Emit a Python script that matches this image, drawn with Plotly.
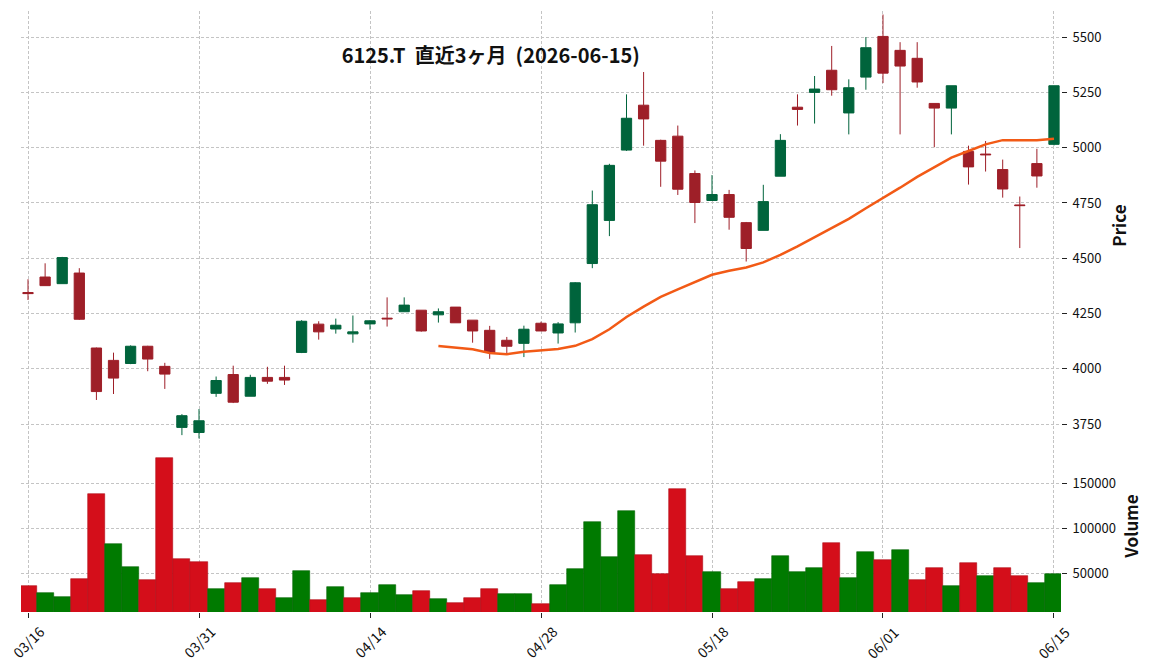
import plotly.graph_objects as go

# ---------------- data ----------------
dates = [
    "2026-03-16", "2026-03-17", "2026-03-18", "2026-03-19", "2026-03-23", "2026-03-24",
    "2026-03-25", "2026-03-26", "2026-03-27", "2026-03-30", "2026-03-31", "2026-04-01",
    "2026-04-02", "2026-04-03", "2026-04-06", "2026-04-07", "2026-04-08", "2026-04-09",
    "2026-04-10", "2026-04-13", "2026-04-14", "2026-04-15", "2026-04-16", "2026-04-17",
    "2026-04-20", "2026-04-21", "2026-04-22", "2026-04-23", "2026-04-24", "2026-04-27",
    "2026-04-28", "2026-04-30", "2026-05-01", "2026-05-07", "2026-05-08", "2026-05-11",
    "2026-05-12", "2026-05-13", "2026-05-14", "2026-05-15", "2026-05-18", "2026-05-19",
    "2026-05-20", "2026-05-21", "2026-05-22", "2026-05-25", "2026-05-26", "2026-05-27",
    "2026-05-28", "2026-05-29", "2026-06-01", "2026-06-02", "2026-06-03", "2026-06-04",
    "2026-06-05", "2026-06-08", "2026-06-09", "2026-06-10", "2026-06-11", "2026-06-12",
    "2026-06-15",
]

opens = [4345, 4415, 4385, 4433, 4094, 4038, 4024, 4102, 4011, 3735,
         3712, 3889, 3974, 3876, 3961, 3961, 4074, 4202, 4180, 4158,
         4203, 4229, 4258, 4265, 4244, 4279, 4220, 4174, 4129, 4115,
         4206, 4162, 4208, 4476, 4671, 4989, 5192, 5033, 5052, 4883,
         4761, 4788, 4661, 4626, 4871, 5183, 5250, 5350, 5157, 5319,
         5503, 5440, 5404, 5200, 5179, 4983, 4971, 4901, 4741, 4928,
         5015]
highs = [4405, 4477, 4506, 4455, 4096, 4073, 4106, 4104, 4027, 3795,
         3818, 3965, 4014, 3973, 4009, 4014, 4220, 4215, 4227, 4241,
         4220, 4323, 4323, 4265, 4273, 4279, 4220, 4194, 4144, 4195,
         4213, 4211, 4392, 4806, 4927, 5241, 5342, 5036, 5100, 4897,
         4876, 4809, 4664, 4832, 5061, 5241, 5324, 5460, 5309, 5500,
         5602, 5477, 5477, 5200, 5280, 5009, 5030, 4946, 4779, 4995,
         5280]
lows = [4311, 4376, 4385, 4221, 3859, 3886, 4021, 3989, 3909, 3700,
        3685, 3873, 3845, 3876, 3932, 3927, 4071, 4132, 4159, 4118,
        4177, 4191, 4258, 4168, 4209, 4208, 4118, 4045, 4065, 4053,
        4171, 4114, 4164, 4455, 4600, 4985, 5009, 4823, 4786, 4659,
        4761, 4629, 4485, 4626, 4871, 5100, 5109, 5235, 5060, 5262,
        5292, 5060, 5271, 5002, 5060, 4833, 4892, 4774, 4546, 4819,
        5010]
closes = [4340, 4376, 4503, 4224, 3897, 3958, 4102, 4044, 3976, 3788,
          3765, 3947, 3849, 3961, 3944, 3949, 4215, 4167, 4197, 4167,
          4217, 4226, 4288, 4171, 4258, 4208, 4171, 4074, 4102, 4179,
          4171, 4203, 4389, 4742, 4920, 5133, 5130, 4939, 4812, 4752,
          4788, 4685, 4544, 4756, 5033, 5173, 5265, 5262, 5271, 5452,
          5337, 5369, 5297, 5179, 5280, 4913, 4968, 4813, 4738, 4872,
          5280]
volumes = [36000, 28000, 23500, 43400, 138300, 82000, 56600, 42300, 178000, 65500,
           62000, 32300, 39000, 44500, 32300, 22400, 52200, 20200, 34500, 22400,
           28000, 36800, 25700, 30100, 21300, 16900, 22400, 32300, 26800, 26800,
           15800, 36800, 54400, 107400, 67700, 119500, 69900, 48900, 143800, 68800,
           51100, 32300, 40000, 43400, 68800, 51100, 55500, 83100, 44500, 73200,
           64300, 75400, 42300, 55500, 35700, 61000, 46700, 55500, 46700, 39000,
           48900]
# 25-day moving average (starts at the 25th session)
ma25 = [None] * 24 + [
    4103, 4096, 4088, 4071, 4066, 4077, 4085, 4090, 4104, 4134,
    4179, 4234, 4281, 4325, 4359, 4391, 4425, 4443, 4458, 4481,
    4515, 4554, 4595, 4634, 4678, 4726, 4771, 4819, 4868, 4911,
    4955, 4985, 5015, 5034, 5034, 5033, 5040]

tick_labels = ["03/16", "03/31", "04/14", "04/28", "05/18", "06/01", "06/15"]
title_text = "6125.T  直近3ヶ月  (2026-06-15)"

# ---------------- styling ----------------
FONT = "Noto Sans CJK JP"
CANDLE_UP = "#00643c"
CANDLE_DN = "#9e1f28"
VOL_UP = "#007a00"
VOL_DN = "#d40e1a"
MA_COLOR = "#f25a16"
GRID = "#c4c4c4"
TXT = "#111111"

x = list(range(len(dates)))
tick_pos = [dates.index("2026-" + t.replace("/", "-")) for t in tick_labels]

vol_colors = []
for i in range(len(closes)):
    ref = closes[i - 1] if i > 0 else opens[0]
    vol_colors.append(VOL_UP if closes[i] >= ref else VOL_DN)
vol_edges = ["#006400" if c == VOL_UP else "#b00c16" for c in vol_colors]

fig = go.Figure()

fig.add_trace(go.Candlestick(
    x=x, open=opens, high=highs, low=lows, close=closes,
    text=dates, hoverinfo="text+y",
    increasing=dict(line=dict(color=CANDLE_UP, width=1), fillcolor=CANDLE_UP),
    decreasing=dict(line=dict(color=CANDLE_DN, width=1), fillcolor=CANDLE_DN),
    whiskerwidth=0,
    xaxis="x", yaxis="y", showlegend=False,
))

fig.add_trace(go.Scatter(
    x=x, y=ma25, mode="lines",
    line=dict(color=MA_COLOR, width=2.5),
    xaxis="x", yaxis="y", showlegend=False, connectgaps=False,
))

fig.add_trace(go.Bar(
    x=x, y=volumes, width=1.0,
    marker=dict(color=vol_colors, line=dict(color=vol_edges, width=0.6)),
    xaxis="x2", yaxis="y2", showlegend=False,
))

L, R, T, B = 21, 91, 11, 58
W, H = 1152, 670
plot_h = H - T - B
split = (612 - 440) / plot_h

xr = [-0.41, 60.41]

common_grid = dict(showgrid=True, gridcolor=GRID, gridwidth=0.8, griddash="3px,2px",
                   zeroline=False, showline=False)

# rotated date labels centred on their ticks
label_y = (612 - 642) / plot_h
annotations = [
    dict(x=p, y=label_y, xref="x2", yref="paper", text=t, textangle=-45,
         showarrow=False, xanchor="center", yanchor="middle",
         font=dict(family=FONT, size=14, color=TXT))
    for p, t in zip(tick_pos, tick_labels)
]

fig.update_layout(
    width=W, height=H,
    margin=dict(l=L, r=R, t=T, b=B, pad=0),
    paper_bgcolor="white", plot_bgcolor="white",
    font=dict(family=FONT, size=13, color=TXT),
    boxgap=0.4, boxgroupgap=0,
    bargap=0,
    annotations=annotations,
    title=dict(text="<b>" + title_text + "</b>", x=490.8 / W, y=1 - 56 / H,
               xref="container", yref="container",
               xanchor="center", yanchor="middle",
               font=dict(family=FONT, size=20, color=TXT)),
    xaxis=dict(domain=[0, 1], anchor="y", range=xr, tickvals=tick_pos,
               showticklabels=False, ticks="", rangeslider=dict(visible=False),
               **common_grid),
    xaxis2=dict(domain=[0, 1], anchor="y2", range=xr, matches="x",
                tickvals=tick_pos, showticklabels=False,
                ticks="outside", ticklen=5, tickwidth=1, tickcolor="#222222",
                **common_grid),
    yaxis=dict(domain=[split, 1], anchor="x", side="right",
               range=[3678, 5618], tickvals=[3750, 4000, 4250, 4500, 4750, 5000, 5250, 5500],
               tickformat="d",
               ticks="outside", ticklen=5, tickwidth=1, tickcolor="#222222",
               ticklabelstandoff=3,
               tickfont=dict(family=FONT, size=13, color=TXT),
               title=dict(text="Price", standoff=13,
                          font=dict(family=FONT, size=17, color=TXT, weight="bold")),
               **common_grid),
    yaxis2=dict(domain=[0, split], anchor="x2", side="right",
                range=[7000, 198000], tickvals=[50000, 100000, 150000],
                tickformat="d",
                ticks="outside", ticklen=5, tickwidth=1, tickcolor="#222222",
                ticklabelstandoff=3,
                tickfont=dict(family=FONT, size=13, color=TXT),
                title=dict(text="Volume", standoff=11,
                           font=dict(family=FONT, size=17, color=TXT, weight="bold")),
                **common_grid),
)

fig.write_html("out.html")
